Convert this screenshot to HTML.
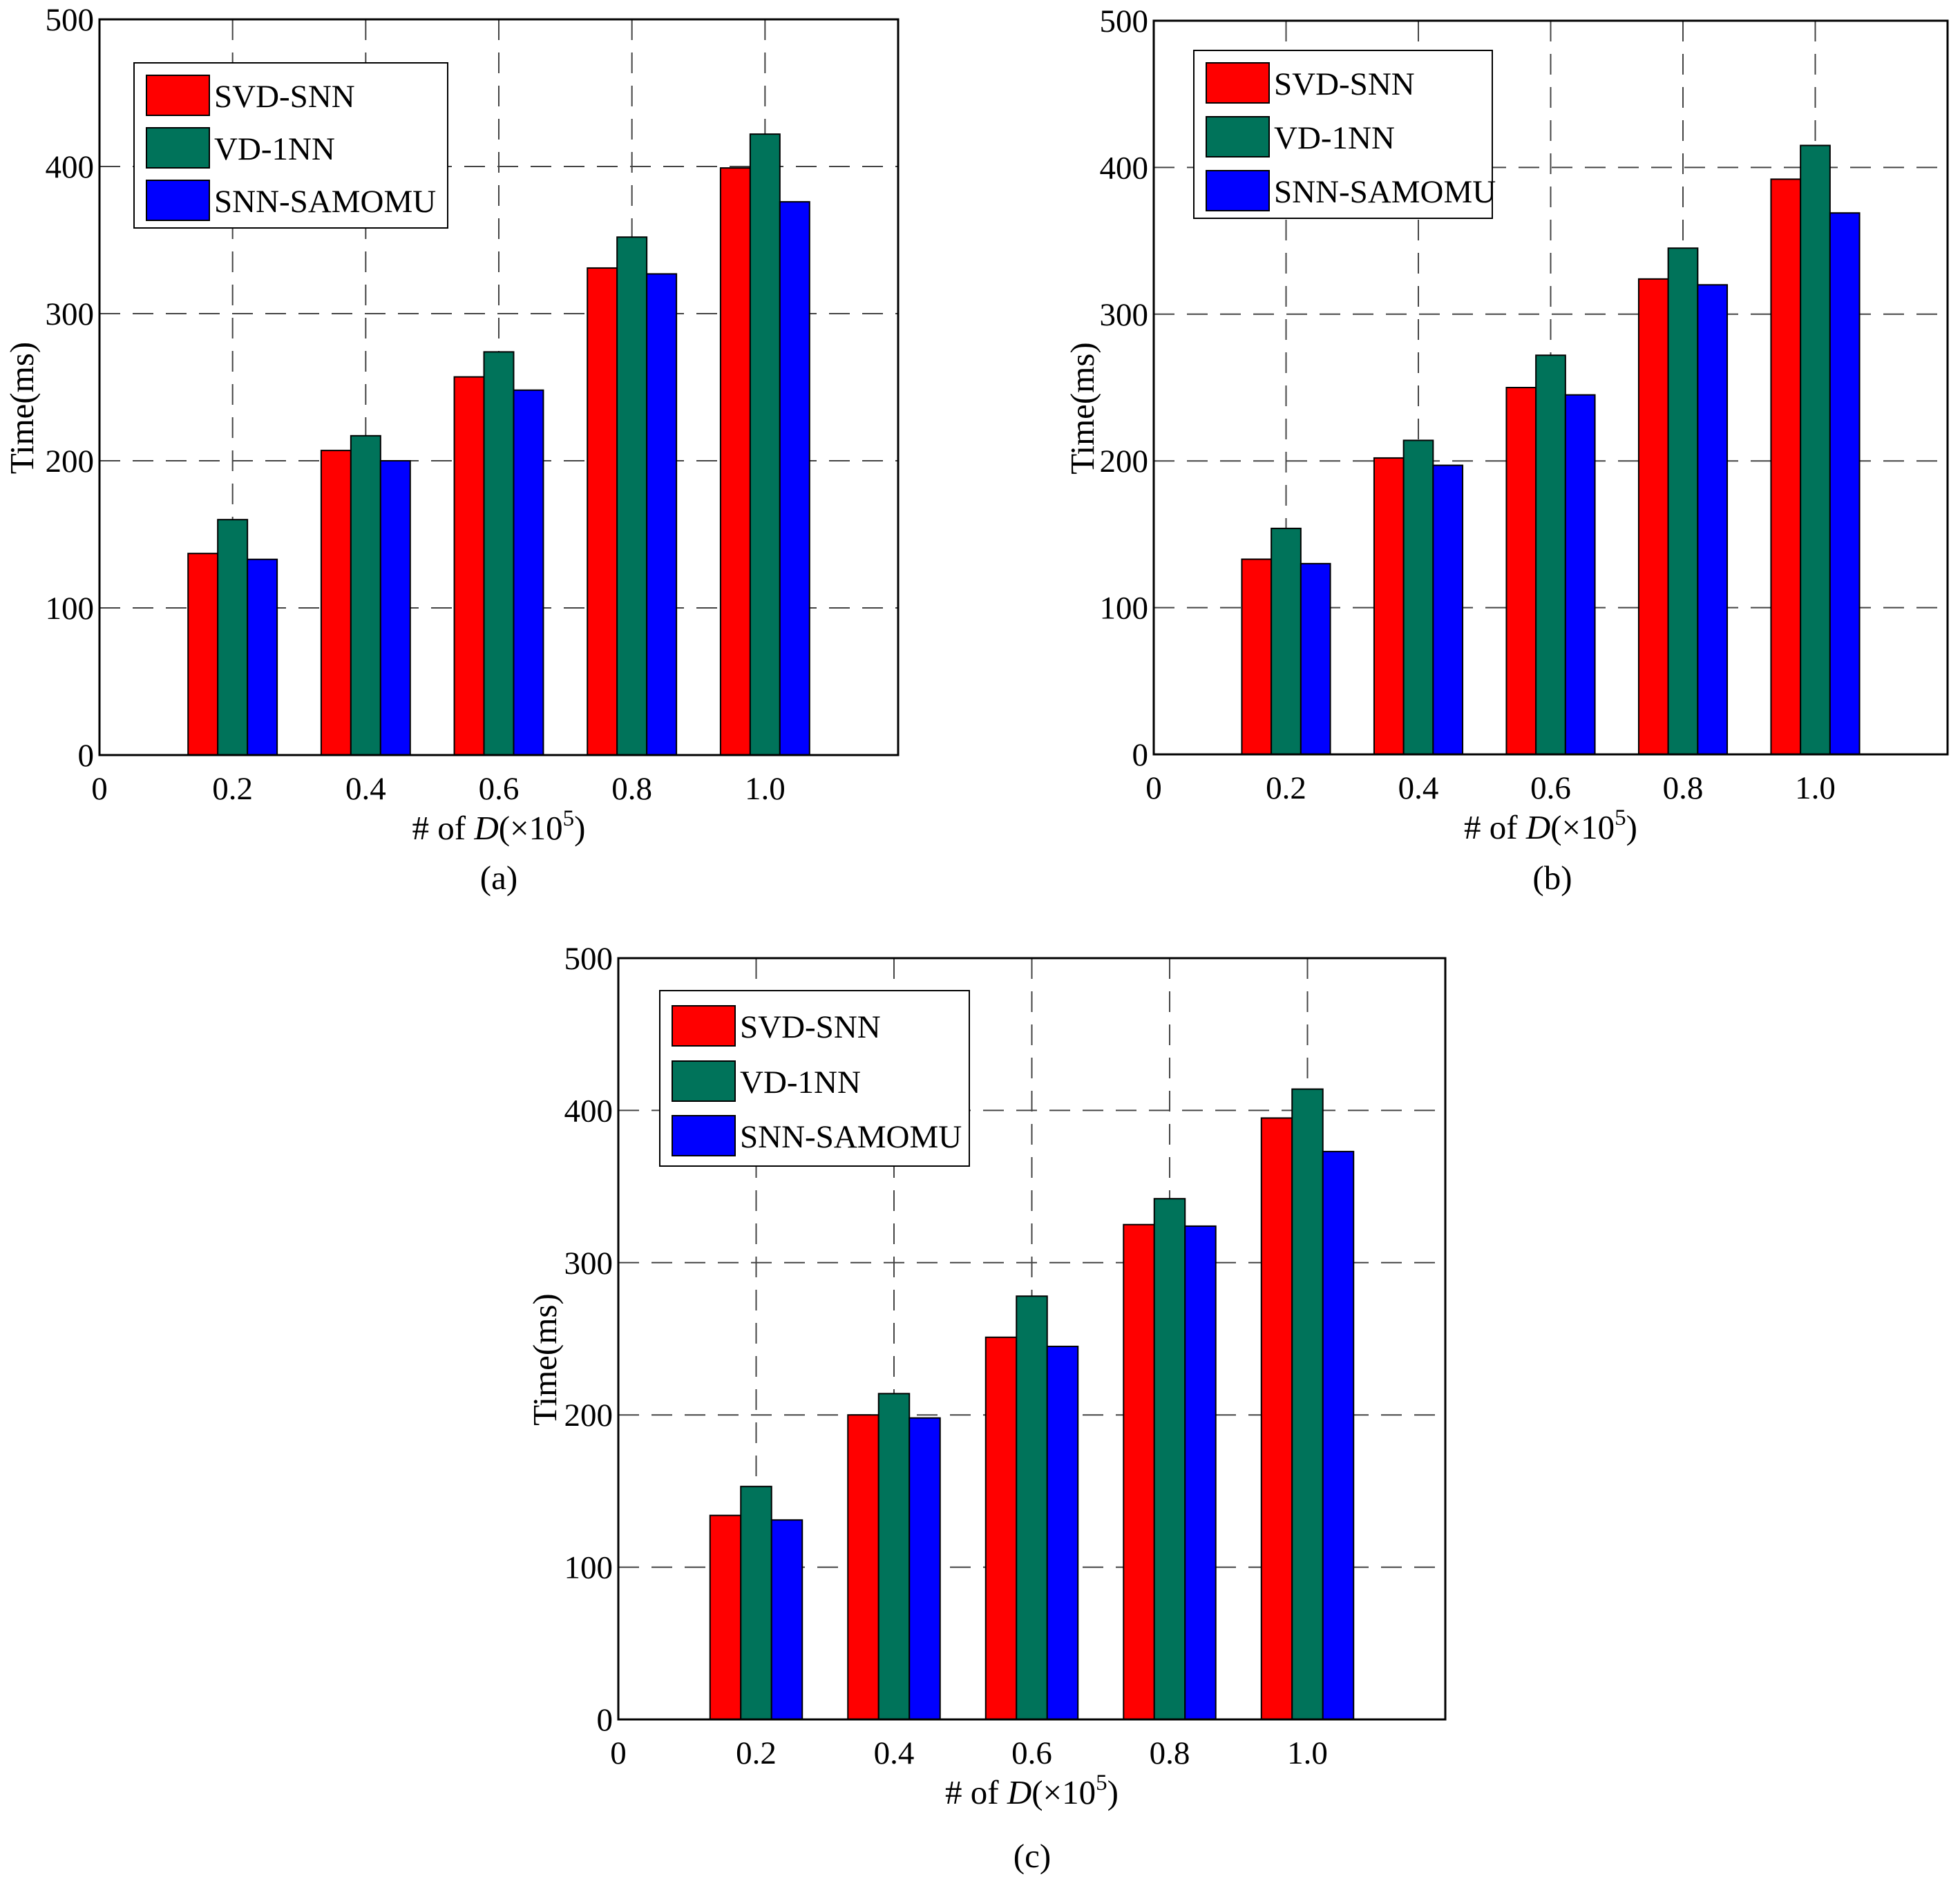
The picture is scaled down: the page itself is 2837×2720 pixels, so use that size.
<!DOCTYPE html>
<html><head><meta charset="utf-8"><style>
html,body{margin:0;padding:0;background:#fff}
svg{display:block}
text{font-family:"Liberation Serif",serif;fill:#000}
</style></head><body>
<svg id="fig" width="2837" height="2720" viewBox="0 0 2837 2720" xmlns="http://www.w3.org/2000/svg"></svg>
<script>
const categories = [0.2, 0.4, 0.6, 0.8, 1.0];
const xTickLabels = ["0", "0.2", "0.4", "0.6", "0.8", "1.0"];
const yTickValues = [0, 100, 200, 300, 400, 500];
const seriesNames = ["SVD-SNN", "VD-1NN", "SNN-SAMOMU"];
const seriesColors = ["#ff0000", "#00735a", "#0000ff"];
const aSVD = [137, 207, 257, 331, 399];
const aVD = [160, 217, 274, 352, 422];
const aSNN = [133, 200, 248, 327, 376];
const bSVD = [133, 202, 250, 324, 392];
const bVD = [154, 214, 272, 345, 415];
const bSNN = [130, 197, 245, 320, 369];
const cSVD = [134, 200, 251, 325, 395];
const cVD = [153, 214, 278, 342, 414];
const cSNN = [131, 198, 245, 324, 373];

const NS = "http://www.w3.org/2000/svg";
const svg = document.getElementById('fig');
function mk(tag, attrs, parent) {
  const e = document.createElementNS(NS, tag);
  for (const k in attrs) e.setAttribute(k, attrs[k]);
  (parent || svg).appendChild(e);
  return e;
}
const panels = [
  {id:'a', L:144, R:1300, T:28, B:1093, series:[aSVD,aVD,aSNN], leg:{x:194,y:91,w:454,h:239,rows:[138,214,290]}, ytx:33, sub:[722,1270]},
  {id:'b', L:1670, R:2819, T:30, B:1092, series:[bSVD,bVD,bSNN], leg:{x:1728,y:73,w:432,h:243,rows:[120,198,276]}, ytx:1568, sub:[2247,1270]},
  {id:'c', L:895, R:2092, T:1387, B:2489, series:[cSVD,cVD,cSNN], leg:{x:955,y:1434,w:448,h:254,rows:[1485,1565,1644]}, ytx:790, sub:[1494,2686]}
];
panels.forEach(p => {
  const g = mk('g', {});
  
  
  const xs = v => p.L + (v / 1.2) * (p.R - p.L);
  const ys = v => p.B - (v / 500) * (p.B - p.T);
  yTickValues.slice(1, 5).forEach(v => {
    const l = mk('line', {x1:p.L, x2:p.R, y1:ys(v), y2:ys(v), stroke:'#444', 'stroke-width':2, 'stroke-dasharray':'30,18'}, g);
    
    
  });
  categories.forEach(c => {
    const l = mk('line', {x1:xs(c), x2:xs(c), y1:p.T, y2:p.B, stroke:'#444', 'stroke-width':2, 'stroke-dasharray':'30,18'}, g);
    
    
  });
  const bw = 0.0446;
  p.series.forEach((arr, si) => {
    arr.forEach((v, i) => {
      const x0 = xs(categories[i] + (si - 1.5) * bw);
      const x1 = xs(categories[i] + (si - 0.5) * bw);
      const r = mk('rect', {x:x0, y:ys(v), width:x1 - x0, height:ys(0) - ys(v), fill:seriesColors[si], stroke:'#000', 'stroke-width':2}, g);
      
      
    });
  });
  const box = mk('rect', {x:p.L, y:p.T, width:p.R - p.L, height:p.B - p.T, fill:'none', stroke:'#000', 'stroke-width':3}, g);
  
  
  yTickValues.forEach(v => {
    const t = mk('text', {x:p.L - 8, y:ys(v) + 16, 'text-anchor':'end', 'font-size':47}, g);
    t.textContent = v;
    
    
  });
  xTickLabels.forEach((s, i) => {
    const t = mk('text', {x:xs(i * 0.2), y:p.B + 64, 'text-anchor':'middle', 'font-size':47}, g);
    t.textContent = s;
    
    
  });
  const xt = mk('text', {x:(p.L + p.R) / 2, y:p.B + 122, 'text-anchor':'middle', 'font-size':49}, g);
  xt.innerHTML = '# of <tspan font-style="italic">D</tspan>(×10<tspan dy="-20" font-size="33">5</tspan><tspan dy="20">)</tspan>';
  
  
  const yt = mk('text', {x:0, y:0, 'text-anchor':'middle', 'font-size':49, transform:`translate(${p.ytx + 15},${(p.T + p.B) / 2 + 30}) rotate(-90)`}, g);
  yt.textContent = 'Time(ms)';
  
  
  const sl = mk('text', {x:p.sub[0], y:p.sub[1] + 17, 'text-anchor':'middle', 'font-size':49}, g);
  sl.textContent = '(' + p.id + ')';
  
  
  const lg = mk('g', {}, g);
  
  
  mk('rect', {x:p.leg.x, y:p.leg.y, width:p.leg.w, height:p.leg.h, fill:'#fff', stroke:'#000', 'stroke-width':2}, lg);
  seriesNames.forEach((n, si) => {
    const e = mk('g', {}, lg);
    
    
    const cy = p.leg.rows[si];
    mk('rect', {x:p.leg.x + 18, y:cy - 29, width:91, height:58, fill:seriesColors[si], stroke:'#000', 'stroke-width':2}, e);
    const t = mk('text', {x:p.leg.x + 116, y:cy + 17, 'font-size':47}, e);
    t.textContent = n;
  });
});
</script>
</body></html>
